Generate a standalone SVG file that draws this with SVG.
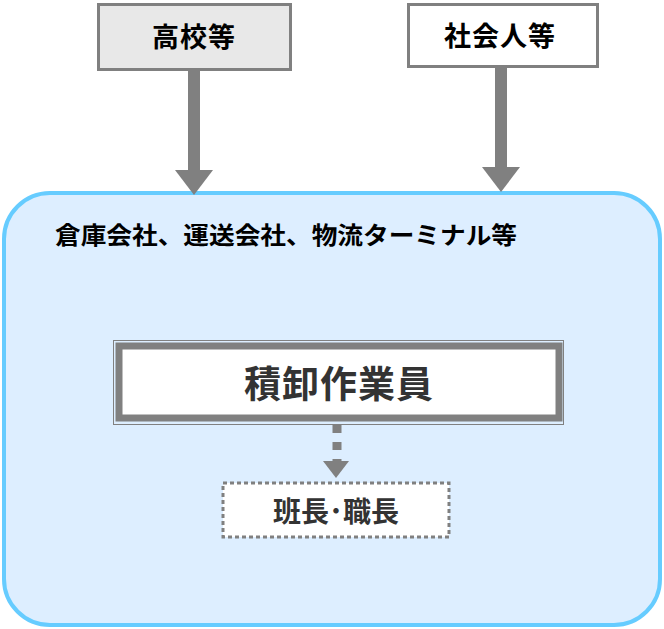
<svg xmlns="http://www.w3.org/2000/svg" width="664" height="629" viewBox="0 0 664 629">
<style>
.t{font-family:"Noto Sans CJK JP","Noto Sans CJK SC",sans-serif;font-weight:bold;text-anchor:middle}
.arrow{fill:#808080}
</style>
<rect width="664" height="629" fill="#ffffff"/>
<g id="container">
<rect x="4" y="193" width="656" height="432" rx="46" ry="46" fill="#DDEEFF" stroke="#66CCFF" stroke-width="4"/>
<text x="55" y="244" font-family="Noto Sans CJK JP,sans-serif" font-weight="bold" font-size="24" fill="#000" textLength="462" lengthAdjust="spacingAndGlyphs">倉庫会社、運送会社、物流ターミナル等</text>
</g>
<g id="connectors">
<rect class="arrow" x="188" y="68" width="12" height="104"/>
<polygon class="arrow" points="175,170 213,170 194,195"/>
<rect class="arrow" x="495" y="66" width="12" height="104"/>
<polygon class="arrow" points="482,167 520,167 501,192"/>
<line x1="337" y1="425" x2="337" y2="461" stroke="#808080" stroke-width="9" stroke-dasharray="8,9"/>
<polygon class="arrow" points="323,461 349,461 336,478"/>
</g>
<g id="n1">
<rect x="98.5" y="4.5" width="192" height="65" fill="#E8E8E8" stroke="#808080" stroke-width="3"/>
<text class="t" x="194" y="47" font-size="27" fill="#000" letter-spacing="1">高校等</text>
</g>
<g id="n2">
<rect x="408.5" y="4.5" width="189" height="62" fill="#FFFFFF" stroke="#808080" stroke-width="3"/>
<text class="t" x="500" y="46" font-size="27" fill="#000" letter-spacing="1">社会人等</text>
</g>
<g id="n3">
<rect x="113.5" y="340.5" width="450" height="84" fill="#DDEEFF" stroke="#808080" stroke-width="1"/>
<rect x="119" y="346" width="440" height="72" fill="#FFFFFF" stroke="#808080" stroke-width="7"/>
<text class="t" x="339" y="398" font-size="37" fill="#333" letter-spacing="1">積卸作業員</text>
</g>
<g id="n4">
<rect x="223" y="483" width="226" height="54" fill="#FFFFFF" stroke="#808080" stroke-width="3" stroke-dasharray="4,3"/>
<text class="t" x="336" y="522" font-size="28" fill="#333">班長･職長</text>
</g>
</svg>
